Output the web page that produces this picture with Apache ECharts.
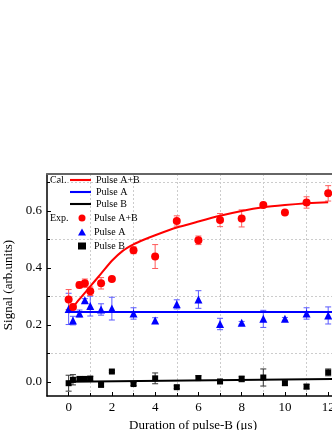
<!DOCTYPE html>
<html>
<head>
<meta charset="utf-8">
<script src="https://cdn.jsdelivr.net/npm/echarts@6/dist/echarts.min.js"></script>
<style>
  html, body { margin: 0; padding: 0; background: #fff; }
  #main { width: 332px; height: 430px; }
</style>
</head>
<body>
<div id="main"></div>
<script>
// measured durations (µs)
const expT = [0, 0.2, 0.5, 0.75, 1, 1.5, 2, 3, 4, 5, 6, 7, 8, 9, 10, 11, 12];

// experiment: Pulse A+B
const expAB = [0.289, 0.263, 0.340, 0.346, 0.318, 0.346, 0.361, 0.462, 0.440, 0.565, 0.497, 0.568, 0.574, 0.621, 0.595, 0.630, 0.662];
const errAB = [0.035, 0.010, 0.010, 0.015, 0.015, 0.020, 0.005, 0.012, 0.042, 0.018, 0.015, 0.023, 0.030, 0.005, 0.004, 0.020, 0.027];
// experiment: Pulse A
const expA = [0.256, 0.215, 0.240, 0.286, 0.266, 0.254, 0.257, 0.240, 0.215, 0.272, 0.289, 0.203, 0.207, 0.221, 0.221, 0.240, 0.233];
const errA = [0.055, 0.015, 0.012, 0.006, 0.035, 0.020, 0.040, 0.020, 0.010, 0.016, 0.031, 0.020, 0.005, 0.030, 0.005, 0.020, 0.030];
// experiment: Pulse B
const expB = [-0.005, 0.007, 0.010, 0.010, 0.011, -0.011, 0.036, -0.008, 0.012, -0.019, 0.013, 0.001, 0.010, 0.015, -0.005, -0.017, 0.033];
const errB = [0.028, 0.018, 0.005, 0.005, 0.008, 0.005, 0.003, 0.005, 0.019, 0.005, 0.008, 0.005, 0.010, 0.030, 0.008, 0.008, 0.012];

// calculation curves
const calT_AB = [0, 0.5, 1, 1.5, 2, 2.5, 3, 3.5, 4, 5, 6, 7, 8, 9, 10, 11, 12];
const calAB = [0.242, 0.290, 0.335, 0.380, 0.425, 0.460, 0.483, 0.500, 0.515, 0.542, 0.563, 0.583, 0.600, 0.613, 0.621, 0.627, 0.631];
const calT_A = [0, 12.5];
const calA = [0.245, 0.245];
const calT_B = [0, 12.5];
const calB = [0.0, 0.01];

// tick labels
const xLabels = [0, 2, 4, 6, 8, 10, 12];
const xGrid = [1, 3, 5, 7, 9, 11];
const yLabels = [0, 0.2, 0.4, 0.6];
const yGrid = [0.1, 0.3, 0.5, 0.7];

const FONT = '"Liberation Serif", "DejaVu Serif", serif';
const LINE_ICON = 'path://M0,0 H20 V2 H0 Z';

const zip = (xs, ys) => xs.map((x, i) => [x, ys[i]]);
const zipErr = (xs, ys, es) => xs.map((x, i) => [x, ys[i] - es[i], ys[i] + es[i]]);

function errorBars(data, color) {
  return {
    type: 'custom',
    name: 'err',
    xAxisIndex: 0,
    yAxisIndex: 0,
    z: 1,
    silent: true,
    encode: { x: 0, y: [1, 2] },
    data: data,
    renderItem: function (params, api) {
      const x = api.value(0);
      const lo = api.coord([x, api.value(1)]);
      const hi = api.coord([x, api.value(2)]);
      const w = 3;
      const st = { stroke: color, lineWidth: 1 };
      return {
        type: 'group',
        children: [
          { type: 'line', shape: { x1: lo[0], y1: lo[1], x2: hi[0], y2: hi[1] }, style: st },
          { type: 'line', shape: { x1: lo[0] - w, y1: lo[1], x2: lo[0] + w, y2: lo[1] }, style: st },
          { type: 'line', shape: { x1: hi[0] - w, y1: hi[1], x2: hi[0] + w, y2: hi[1] }, style: st }
        ]
      };
    }
  };
}

const chart = echarts.init(document.getElementById('main'));

const option = {
  animation: false,
  backgroundColor: '#fff',
  textStyle: { fontFamily: FONT },
  grid: { left: 47, right: -7, top: 174, bottom: 34, outerBoundsMode: 'none' },
  xAxis: [
    {
      type: 'value', position: 'bottom', min: -1, max: 12.5,
      name: 'Duration of pulse-B (\u03bcs)', nameLocation: 'middle', nameGap: 16,
      nameTextStyle: { fontFamily: FONT, fontSize: 13, color: '#000' },
      axisLine: { show: true, onZero: false, lineStyle: { color: '#000', width: 1.5 } },
      axisTick: { show: true, inside: true, length: 4, customValues: xLabels, lineStyle: { color: '#000' } },
      axisLabel: { customValues: xLabels, margin: 5, fontFamily: FONT, fontSize: 13, color: '#000' },
      splitLine: { show: false }
    },
    {
      type: 'value', position: 'bottom', min: -1, max: 12.5,
      axisLine: { show: false, onZero: false },
      axisTick: { show: true, inside: true, length: 3, customValues: xGrid, lineStyle: { color: '#000' } },
      axisLabel: { show: false },
      splitLine: { show: true, lineStyle: { color: '#ccc', type: [2, 2], width: 1 } }
    },
    {
      type: 'value', position: 'top', min: -1, max: 12.5,
      axisLine: { show: true, onZero: false, lineStyle: { color: '#666', width: 2 } },
      axisTick: { show: false },
      axisLabel: { show: false },
      splitLine: { show: false }
    }
  ],
  yAxis: [
    {
      type: 'value', position: 'left', min: -0.05, max: 0.73,
      name: 'Signal (arb.units)', nameLocation: 'middle', nameGap: 25,
      nameTextStyle: { fontFamily: FONT, fontSize: 13, color: '#000' },
      axisLine: { show: true, onZero: false, lineStyle: { color: '#000', width: 1.5 } },
      axisTick: { show: true, inside: true, length: 4, customValues: yLabels, lineStyle: { color: '#000' } },
      axisLabel: { customValues: yLabels, margin: 5, fontFamily: FONT, fontSize: 13, color: '#000',
        formatter: v => v.toFixed(1) },
      splitLine: { show: false }
    },
    {
      type: 'value', position: 'left', min: -0.05, max: 0.73,
      axisLine: { show: false, onZero: false },
      axisTick: { show: true, inside: true, length: 3, customValues: yGrid, lineStyle: { color: '#000' } },
      axisLabel: { show: false },
      splitLine: { show: true, lineStyle: { color: '#ccc', type: [2, 2], width: 1 } }
    }
  ],
  legend: [
    {
      orient: 'vertical', left: 70, top: 175, padding: 0,
      itemWidth: 21, itemHeight: 10, itemGap: 2, selectedMode: false,
      data: [
        { name: 'Cal. Pulse A+B', icon: LINE_ICON },
        { name: 'Cal. Pulse A', icon: LINE_ICON },
        { name: 'Cal. Pulse B', icon: LINE_ICON }
      ],
      formatter: n => n.slice(5),
      textStyle: { fontFamily: FONT, fontSize: 10, color: '#000' }
    },
    {
      orient: 'vertical', left: 78, top: 213, padding: 0,
      itemWidth: 8, itemHeight: 7, itemGap: 4, selectedMode: false,
      data: ['Exp. Pulse A+B', 'Exp. Pulse A', 'Exp. Pulse B'],
      formatter: n => n.slice(5),
      textStyle: { fontFamily: FONT, fontSize: 10, color: '#000', padding: [0, 0, 0, 3] }
    }
  ],
  graphic: [
    { type: 'text', left: 50, top: 175, style: { text: 'Cal.', font: '10px ' + FONT, fill: '#000' } },
    { type: 'text', left: 50, top: 213, style: { text: 'Exp.', font: '10px ' + FONT, fill: '#000' } }
  ],
  series: [
    errorBars(zipErr(expT, expB, errB), '#333'),
    errorBars(zipErr(expT, expA, errA), '#5b5bff'),
    errorBars(zipErr(expT, expAB, errAB), '#ff5a5a'),
    {
      name: 'Cal. Pulse B', type: 'line', symbol: 'none', z: 2,
      data: zip(calT_B, calB), lineStyle: { color: '#000', width: 2 }, itemStyle: { color: '#000' }
    },
    {
      name: 'Cal. Pulse A', type: 'line', symbol: 'none', z: 2,
      data: zip(calT_A, calA), lineStyle: { color: '#0000ff', width: 2 }, itemStyle: { color: '#0000ff' }
    },
    {
      name: 'Cal. Pulse A+B', type: 'line', symbol: 'none', z: 2, smooth: 0.2,
      data: zip(calT_AB, calAB), lineStyle: { color: '#ff0000', width: 2 }, itemStyle: { color: '#ff0000' }
    },
    {
      name: 'Exp. Pulse B', type: 'scatter', symbol: 'rect', symbolSize: 6, z: 3,
      data: zip(expT, expB), itemStyle: { color: '#000', opacity: 1 }
    },
    {
      name: 'Exp. Pulse A', type: 'scatter', symbol: 'triangle', symbolSize: 8, z: 3,
      data: zip(expT, expA), itemStyle: { color: '#0000ff', opacity: 1 }
    },
    {
      name: 'Exp. Pulse A+B', type: 'scatter', symbol: 'circle', symbolSize: 8, z: 3,
      data: zip(expT, expAB), itemStyle: { color: '#ff0000', opacity: 1 }
    }
  ]
};

chart.setOption(option);
</script>
</body>
</html>
